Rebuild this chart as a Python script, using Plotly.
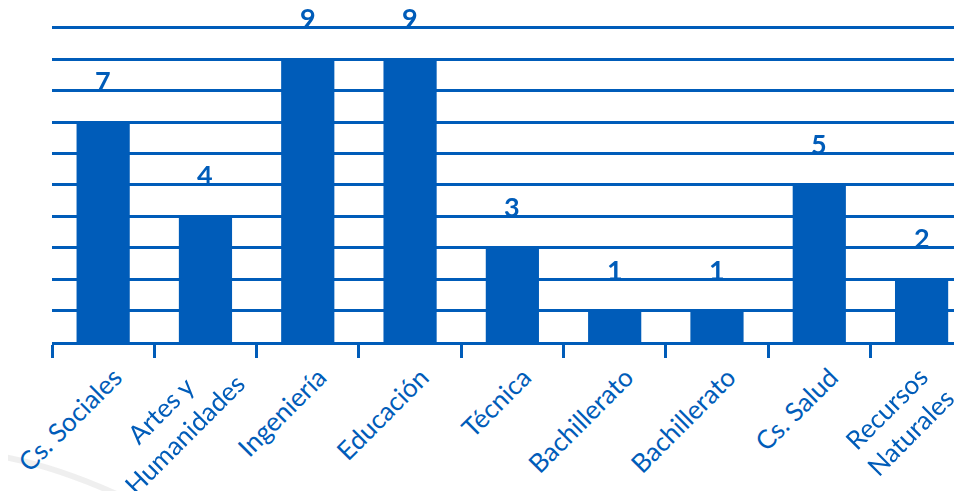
import plotly.graph_objects as go

categories = ["Cs. Sociales", "Artes y<br>Humanidades", "Ingeniería", "Educación", "Técnica",
              "Bachillerato", "Bachillerato", "Cs. Salud", "Recursos<br>Naturales"]
values = [7, 4, 9, 9, 3, 1, 1, 5, 2]

BLUE = "#005CB9"
FONT = "Lato"
xpos = list(range(len(categories)))
XR = [-0.5, 8.395]
LABEL_SHIFT = 0.11

# single-line labels go on the axis; two-line labels are centred blocks (annotations)
single_idx = [i for i, c in enumerate(categories) if "<br>" not in c]
multi_idx = [i for i, c in enumerate(categories) if "<br>" in c]
multi_shift = {1: (-33, -0.252), 8: (-23, -0.248)}

fig = go.Figure()
fig.add_trace(go.Bar(x=xpos, y=values, marker=dict(color=BLUE, line=dict(width=0)), width=0.52,
                     hoverinfo="skip"))
fig.add_trace(go.Scatter(x=xpos, y=values, xaxis="x2", mode="markers", opacity=0,
                         hoverinfo="skip", showlegend=False))

for x, v in zip(xpos, values):
    fig.add_annotation(x=x, y=v, text=f"<b>{v}</b>", showarrow=False, yanchor="bottom",
                       yshift=23, font=dict(family=FONT, size=27, color=BLUE))

for i in multi_idx:
    xs, yp = multi_shift[i]
    fig.add_annotation(x=xpos[i], xref="x", y=yp, yref="paper", text=categories[i], showarrow=False,
                       textangle=-45, align="center", xanchor="center", yanchor="middle", xshift=xs,
                       font=dict(family=FONT, size=26, color=BLUE))

fig.update_layout(
    width=962, height=491,
    margin=dict(l=44, r=8, t=18, b=157, autoexpand=False),
    paper_bgcolor="white", plot_bgcolor="white",
    showlegend=False,
    xaxis=dict(
        range=XR, tickmode="array", tickvals=xpos, showticklabels=False,
        ticks="", automargin=False,
        minor=dict(tick0=-0.5, dtick=1, ticks="outside", ticklen=13, tickwidth=2.5, tickcolor=BLUE, showgrid=False),
        showline=True, linecolor=BLUE, linewidth=3, showgrid=False, zeroline=False,
    ),
    xaxis2=dict(
        overlaying="x", side="bottom", range=[XR[0] - LABEL_SHIFT, XR[1] - LABEL_SHIFT],
        tickmode="array", tickvals=[xpos[i] for i in single_idx],
        ticktext=[categories[i] for i in single_idx], ticklabeloverflow="allow",
        tickangle=-45, tickfont=dict(family=FONT, size=26, color=BLUE),
        ticks="outside", ticklen=9, tickcolor="rgba(0,0,0,0)", automargin=False,
        showline=False, showgrid=False, zeroline=False,
    ),
    yaxis=dict(
        range=[0, 10.06], dtick=1, showticklabels=False, showgrid=True, gridcolor=BLUE, gridwidth=3,
        zeroline=False, showline=False, ticks="", automargin=False,
    ),
)
fig.add_shape(type="path", xref="paper", yref="paper",
              path="M -0.06,-0.36 Q 0.0,-0.39 0.07,-0.48",
              line=dict(color="rgba(215,215,215,0.4)", width=6), layer="below")

fig.write_html("out.html")
